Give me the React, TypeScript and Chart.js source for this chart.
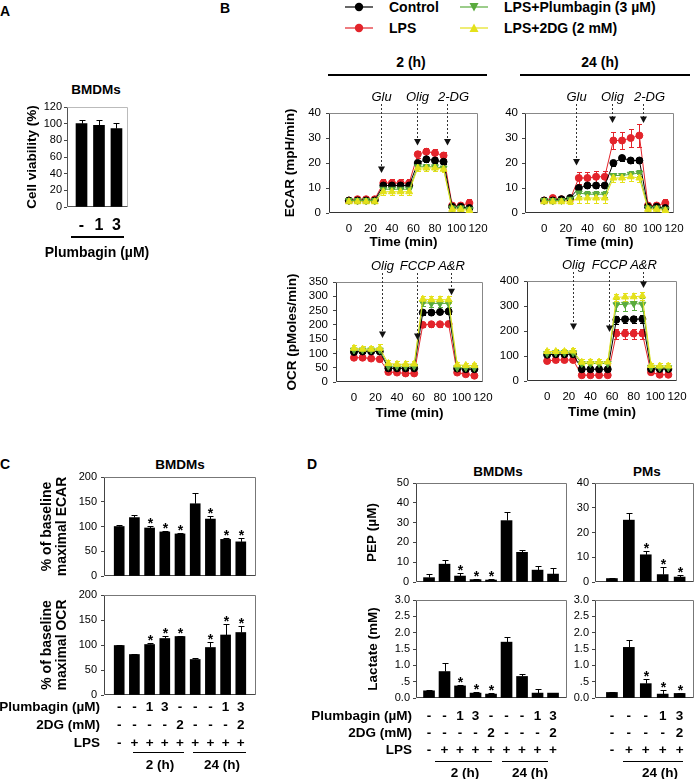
import React, { useEffect, useRef } from 'react';
import { Chart, registerables } from 'chart.js';

Chart.register(...registerables);

const FONT = "'Liberation Sans', Arial, Helvetica, sans-serif";

// ================= Panel A =================
const A_LABELS = ['-', '1', '3'];
const A_VIABILITY = [100, 98, 94];
const A_VIABILITY_ERR = [4, 6, 7];
const A_Y_TICKS = [0, 20, 40, 60, 80, 100, 120];

// ================= Panel B =================
const B_TIME = [0, 8, 16, 24, 32, 40, 48, 56, 64, 72, 80, 88, 96, 104, 112];
const B_X_TICKS = [0, 20, 40, 60, 80, 100, 120];
const B_SERIES = ['Control', 'LPS', 'LPS+Plumbagin (3 µM)', 'LPS+2DG (2 mM)'];
const B_COLORS = ['#000000', '#e3242b', '#5aab3d', '#e4e11a'];
const ECAR_TICKS = [0, 10, 20, 30, 40];
const OCR2_TICKS = [0, 50, 100, 150, 200, 250, 300, 350];
const OCR24_TICKS = [0, 100, 200, 300, 400];

const ECAR2_CTRL = [5, 5, 5, 5, 11, 11, 11, 11, 20, 21.5, 21, 20.5, 2.5, 2.5, 2];
const ECAR2_LPS = [5, 5.5, 5.5, 5.5, 12, 12, 12, 12, 23.5, 24.5, 24, 23, 3, 3, 4];
const ECAR2_PLB = [5, 5, 5, 5, 9.5, 9.5, 9.5, 9.5, 18.5, 18.5, 18.5, 18, 2, 2, 1.5];
const ECAR2_2DG = [4.5, 4.5, 4.5, 4.5, 8.5, 8.5, 8.5, 8.5, 18, 18, 18, 17.5, 1.5, 1.5, 1];
const ECAR2_CTRL_ERR = [0.5, 0.5, 0.5, 0.5, 1, 1, 1, 1, 1, 1.2, 1, 1, 0.5, 0.5, 0.5];
const ECAR2_LPS_ERR = [0.5, 0.6, 0.6, 0.6, 1.5, 1.5, 1.5, 1.5, 1.5, 1.5, 1.5, 1.5, 1, 1, 1.5];
const ECAR2_PLB_ERR = [0.5, 0.5, 0.5, 0.5, 1, 1, 1, 1, 1, 1, 1, 1, 0.5, 0.5, 0.5];
const ECAR2_2DG_ERR = [0.6, 0.6, 0.6, 0.6, 1.2, 1.2, 1.2, 1.2, 1, 1, 1, 1, 0.5, 0.5, 0.5];

const ECAR24_CTRL = [5, 5, 5.5, 6, 10, 11, 11, 11, 20, 22, 21, 21, 2.5, 2.5, 2];
const ECAR24_LPS = [5, 6, 5.5, 5.5, 14, 14, 14.5, 14.5, 29, 29, 30, 31, 3, 3, 4];
const ECAR24_PLB = [5, 5, 5, 5.5, 8, 7.5, 7.5, 7.5, 15, 15, 15.5, 16, 2, 2, 1.5];
const ECAR24_2DG = [4.5, 4.5, 4.5, 4.5, 6, 6, 6, 6, 14, 14, 14.5, 14, 1.5, 1.5, 1];
const ECAR24_CTRL_ERR = [0.5, 0.5, 0.5, 0.8, 1, 1, 1, 1, 1, 1, 1, 1, 0.5, 0.5, 0.5];
const ECAR24_LPS_ERR = [0.6, 0.6, 0.6, 0.8, 2.5, 2.5, 2.5, 2.5, 3.5, 3.5, 3.5, 4.5, 1, 1, 1.5];
const ECAR24_PLB_ERR = [0.5, 0.5, 0.5, 0.8, 1.2, 1.2, 1.2, 1.2, 1.2, 1.2, 1.2, 1.2, 0.5, 0.5, 0.5];
const ECAR24_2DG_ERR = [0.6, 0.6, 0.6, 0.8, 2, 2, 2, 2, 1.5, 1.5, 1.5, 1.5, 0.6, 0.6, 0.6];

const OCR2_CTRL = [105, 107, 107, 107, 48, 48, 48, 48, 243, 243, 245, 247, 47, 45, 45];
const OCR2_LPS = [85, 85, 82, 80, 35, 33, 30, 30, 200, 202, 202, 203, 33, 27, 22];
const OCR2_PLB = [112, 112, 112, 112, 55, 55, 55, 55, 278, 275, 275, 275, 50, 50, 50];
const OCR2_2DG = [118, 115, 115, 118, 65, 62, 62, 63, 290, 288, 288, 288, 60, 58, 58];
const OCR2_CTRL_ERR = [6, 6, 6, 6, 5, 5, 5, 5, 8, 8, 8, 8, 5, 5, 5];
const OCR2_LPS_ERR = [6, 6, 6, 6, 6, 6, 6, 6, 8, 8, 8, 8, 5, 5, 5];
const OCR2_PLB_ERR = [8, 8, 8, 8, 8, 8, 8, 8, 12, 12, 12, 12, 8, 8, 8];
const OCR2_2DG_ERR = [10, 10, 10, 15, 12, 12, 12, 12, 12, 12, 12, 12, 10, 10, 10];

const OCR24_CTRL = [105, 107, 107, 107, 47, 47, 47, 47, 245, 247, 247, 248, 48, 48, 48];
const OCR24_LPS = [80, 84, 84, 84, 23, 23, 23, 23, 190, 190, 190, 190, 35, 25, 25];
const OCR24_PLB = [110, 113, 113, 113, 70, 70, 70, 70, 305, 307, 310, 307, 55, 53, 53];
const OCR24_2DG = [118, 118, 118, 120, 75, 76, 76, 76, 335, 336, 337, 340, 62, 60, 60];
const OCR24_CTRL_ERR = [8, 8, 8, 8, 5, 5, 5, 5, 15, 15, 15, 15, 5, 5, 5];
const OCR24_LPS_ERR = [8, 8, 8, 8, 8, 8, 8, 8, 20, 20, 20, 20, 5, 5, 5];
const OCR24_PLB_ERR = [10, 10, 10, 10, 8, 8, 8, 8, 25, 25, 25, 25, 8, 8, 8];
const OCR24_2DG_ERR = [12, 12, 12, 12, 12, 12, 12, 12, 15, 15, 15, 15, 12, 12, 12];

const ECAR_ARROW_LABELS = ['Glu', 'Olig', '2-DG'];
const ECAR2_ARROW_T = [30, 63, 91];
const ECAR2_ARROW_TIP = [16, 27, 27];
const ECAR24_ARROW_T = [29, 63, 91];
const ECAR24_ARROW_TIP = [19, 36, 36];
const OCR_ARROW_LABELS = ['Olig', 'FCCP', 'A&R'];
const OCR2_ARROW_T = [26, 58.5, 90];
const OCR2_ARROW_TIP = [154, 147, 304];
const OCR24_ARROW_T = [24, 57.5, 89];
const OCR24_ARROW_TIP = [204, 196, 372];

// ================= Panel C =================
const C_PLUMB = ['-', '-', '1', '3', '-', '-', '-', '1', '3'];
const C_2DG = ['-', '-', '-', '-', '2', '-', '-', '-', '2'];
const C_LPS = ['-', '+', '+', '+', '+', '+', '+', '+', '+'];
const C_ECAR = [100, 118, 97, 89, 85, 146, 115, 74, 69];
const C_ECAR_ERR = [3, 6, 4, 2, 1, 22, 6, 2, 7];
const C_ECAR_SIG = [0, 0, 1, 1, 1, 0, 1, 1, 1];
const C_OCR = [99, 81, 101, 113, 117, 71, 95, 120, 125];
const C_OCR_ERR = [1.5, 1.5, 4, 6, 2, 4, 12, 23, 14];
const C_OCR_SIG = [0, 0, 1, 1, 1, 0, 1, 1, 1];
const C_Y_TICKS = [0, 50, 100, 150, 200];

// ================= Panel D =================
const D_B_PLUMB = ['-', '-', '1', '3', '-', '-', '-', '1', '3'];
const D_B_2DG = ['-', '-', '-', '-', '2', '-', '-', '-', '2'];
const D_B_LPS = ['-', '+', '+', '+', '+', '+', '+', '+', '+'];
const D_PM_PLUMB = ['-', '-', '-', '1', '3'];
const D_PM_2DG = ['-', '-', '-', '-', '2'];
const D_PM_LPS = ['-', '+', '+', '+', '+'];

const D_PEP_BMDM = [2.2, 9, 3, 1.2, 1, 31, 15, 6, 4];
const D_PEP_BMDM_ERR = [1.8, 2, 1.5, 0.3, 0.3, 4.5, 1, 2, 3];
const D_PEP_BMDM_SIG = [0, 0, 1, 1, 1, 0, 0, 0, 0];
const D_PEP_PM = [1.4, 25, 11, 3, 2];
const D_PEP_PM_ERR = [0.4, 2.8, 1.5, 3, 1];
const D_PEP_PM_SIG = [0, 0, 1, 1, 1];
const D_LAC_BMDM = [0.22, 0.81, 0.37, 0.15, 0.12, 1.71, 0.66, 0.15, 0.15];
const D_LAC_BMDM_ERR = [0.02, 0.26, 0.03, 0.04, 0.03, 0.15, 0.07, 0.12, 0.01];
const D_LAC_BMDM_SIG = [0, 0, 1, 1, 1, 0, 0, 0, 0];
const D_LAC_PM = [0.17, 1.55, 0.44, 0.12, 0.14];
const D_LAC_PM_ERR = [0.01, 0.23, 0.14, 0.13, 0.01];
const D_LAC_PM_SIG = [0, 0, 1, 1, 1];
const D_PEP_BMDM_TICKS = [0, 10, 20, 30, 40, 50];
const D_PEP_PM_TICKS = [0, 10, 20, 30, 40];
const D_LAC_TICKS = [0, 0.5, 1, 1.5, 2, 2.5, 3];
const D_LAC_TICK_LABELS = ['0.0', '.5', '1.0', '1.5', '2.0', '2.5', '3.0'];

// ================= helpers =================
type G = { l: number; t: number; r: number; b: number; padTop: number; padRight: number; yW: number; xH: number };

const LABEL_SHIFT: Record<string, number> = { '2-DG': 6 };
const TICK_LEN = 3;

function base(g: G) {
  return {
    animation: false,
    responsive: false,
    maintainAspectRatio: false,
    devicePixelRatio: 1,
    layout: { padding: { top: g.padTop, right: g.padRight, left: 0, bottom: 0 }, autoPadding: false },
    plugins: { legend: { display: false }, tooltip: { enabled: false }, title: { display: false } },
  };
}

const NO_GRID = { display: false, drawTicks: false, drawOnChartArea: false, tickLength: 0, offset: false };
const Y_GRID = { display: true, drawTicks: true, drawOnChartArea: false, tickLength: TICK_LEN, color: '#444', lineWidth: 1, offset: false };

function yCfg(g: G, p: { min: number; max: number; ticks: number[]; labels?: string[]; size: number; gap: number; title?: string | string[]; titleSize?: number; titleLH?: number | string }) {
  return {
    type: 'linear',
    min: p.min,
    max: p.max,
    grid: Y_GRID,
    border: { display: false },
    ticks: {
      padding: Math.max(0, p.gap - TICK_LEN),
      color: '#000',
      autoSkip: false,
      font: { family: FONT, size: p.size },
      callback: (v: number, i: number) => (p.labels ? p.labels[i] : String(v)),
    },
    afterBuildTicks: (s: any) => { s.ticks = p.ticks.map((v) => ({ value: v })); },
    afterFit: (s: any) => { s.width = g.yW; s.paddingTop = 0; s.paddingBottom = 0; },
    title: p.title
      ? { display: true, text: p.title, padding: 0, color: '#000', font: { family: FONT, size: p.titleSize ?? 13.5, weight: 'bold', lineHeight: p.titleLH ?? 1.2 } }
      : { display: false },
  };
}

const framePlugin = (lb: string, tr: string) => ({
  id: 'frame',
  beforeDatasetsDraw(chart: any) {
    const { ctx, chartArea: a } = chart;
    const L = Math.round(a.left) + 0.5, R = Math.round(a.right) - 0.5, T = Math.round(a.top) + 0.5, B = Math.round(a.bottom) - 0.5;
    ctx.save();
    ctx.lineWidth = 1;
    ctx.strokeStyle = tr;
    ctx.beginPath(); ctx.moveTo(L, T); ctx.lineTo(R, T); ctx.lineTo(R, B); ctx.stroke();
    ctx.strokeStyle = lb;
    ctx.beginPath(); ctx.moveTo(L, T); ctx.lineTo(L, B); ctx.lineTo(R, B); ctx.stroke();
    ctx.restore();
  },
});

const barErrPlugin = (errs: number[], sig: number[]) => ({
  id: 'barErr',
  afterDatasetsDraw(chart: any) {
    const { ctx } = chart;
    const ys = chart.scales.y;
    const meta = chart.getDatasetMeta(0);
    const ds = chart.data.datasets[0];
    ctx.save();
    ctx.strokeStyle = '#000';
    ctx.fillStyle = '#000';
    ctx.lineWidth = 1;
    meta.data.forEach((el: any, i: number) => {
      const v = ds.data[i].y;
      const x = Math.round(el.x) + 0.5;
      const yT = ys.getPixelForValue(v);
      const yE = Math.round(ys.getPixelForValue(v + errs[i])) + 0.5;
      ctx.beginPath();
      ctx.moveTo(x, yT); ctx.lineTo(x, yE);
      ctx.moveTo(x - 3, yE); ctx.lineTo(x + 3, yE);
      ctx.stroke();
      if (sig[i]) {
        ctx.font = `bold 14px ${FONT}`;
        ctx.textAlign = 'center';
        ctx.textBaseline = 'alphabetic';
        ctx.fillText('*', x, yE + 1);
      }
    });
    ctx.restore();
  },
});

const lineErrPlugin = (errs: number[][]) => ({
  id: 'lineErr',
  beforeDatasetsDraw(chart: any) {
    const { ctx } = chart;
    const ys = chart.scales.y;
    ctx.save();
    ctx.lineWidth = 1;
    chart.data.datasets.forEach((ds: any, k: number) => {
      const meta = chart.getDatasetMeta(k);
      ctx.strokeStyle = ds.borderColor;
      meta.data.forEach((pt: any, i: number) => {
        const v = ds.data[i].y;
        const e = errs[k][i];
        const x = Math.round(pt.x) + 0.5;
        const y1 = Math.round(ys.getPixelForValue(v + e)) + 0.5;
        const y2 = Math.round(ys.getPixelForValue(v - e)) + 0.5;
        ctx.beginPath();
        ctx.moveTo(x, y1); ctx.lineTo(x, y2);
        ctx.moveTo(x - 2.5, y1); ctx.lineTo(x + 2.5, y1);
        ctx.moveTo(x - 2.5, y2); ctx.lineTo(x + 2.5, y2);
        ctx.stroke();
      });
    });
    ctx.restore();
  },
});

const arrowPlugin = (times: number[], tips: number[], labels: string[]) => ({
  id: 'arrows',
  afterDatasetsDraw(chart: any) {
    const { ctx, chartArea: a } = chart;
    const xs = chart.scales.x, ys = chart.scales.y;
    ctx.save();
    times.forEach((t, i) => {
      const px = Math.round(xs.getPixelForValue(t)) + 0.5;
      const py = ys.getPixelForValue(tips[i]);
      ctx.strokeStyle = '#333';
      ctx.lineWidth = 1;
      ctx.setLineDash([2, 2]);
      ctx.beginPath(); ctx.moveTo(px, a.top - 9); ctx.lineTo(px, py - 5); ctx.stroke();
      ctx.setLineDash([]);
      ctx.fillStyle = '#111';
      ctx.beginPath(); ctx.moveTo(px - 3.5, py - 6.5); ctx.lineTo(px + 3.5, py - 6.5); ctx.lineTo(px, py); ctx.closePath(); ctx.fill();
      ctx.font = `italic 13px ${FONT}`;
      ctx.textAlign = 'center';
      ctx.textBaseline = 'middle';
      ctx.fillStyle = '#000';
      ctx.fillText(labels[i], px + (LABEL_SHIFT[labels[i]] || 0), a.top - 16);
    });
    ctx.restore();
  },
});

function lineCfg(g: G, p: {
  xMin: number; series: number[][]; errs: number[][];
  yMax: number; yTicks: number[]; yTitle?: string; gap: number;
  arrowT: number[]; arrowTip: number[]; arrowLabels: string[];
}) {
  const order = [2, 3, 1, 0];
  return {
    type: 'line',
    data: {
      datasets: p.series.map((s, k) => ({
        label: B_SERIES[k],
        data: s.map((v, i) => ({ x: B_TIME[i], y: v })),
        borderColor: B_COLORS[k],
        backgroundColor: B_COLORS[k],
        borderWidth: 1,
        pointRadius: k >= 2 ? 4 : 3.5,
        pointStyle: k >= 2 ? 'triangle' : 'circle',
        pointRotation: k === 2 ? 180 : 0,
        pointBorderWidth: 1,
        tension: 0,
        order: order[k],
      })),
    },
    options: {
      ...base(g),
      scales: {
        x: {
          type: 'linear',
          min: p.xMin,
          max: 120,
          offset: false,
          grid: NO_GRID,
          border: { display: false },
          ticks: { padding: 9, color: '#000', autoSkip: false, maxRotation: 0, minRotation: 0, font: { family: FONT, size: 11.5 }, callback: (v: number) => String(v) },
          afterBuildTicks: (s: any) => { s.ticks = B_X_TICKS.map((v) => ({ value: v })); },
          afterFit: (s: any) => { s.height = g.xH; s.paddingLeft = 0; s.paddingRight = 0; },
          title: { display: true, text: 'Time (min)', padding: 0, color: '#000', font: { family: FONT, size: 13.5, weight: 'bold', lineHeight: 1.2 } },
        },
        y: yCfg(g, { min: 0, max: p.yMax, ticks: p.yTicks, size: 11.5, gap: p.gap, title: p.yTitle }),
      },
    },
    plugins: [framePlugin('#333', '#888'), lineErrPlugin(p.errs), arrowPlugin(p.arrowT, p.arrowTip, p.arrowLabels)],
  };
}

function barCfg(g: G, p: {
  values: number[]; errs: number[]; sig: number[];
  xMin: number; xMax: number; barW: number;
  yMax: number; yTicks: number[]; yTickLabels?: string[]; gap: number;
  yTitle?: string | string[]; yTitleSize?: number; yTitleLH?: number | string;
  xLabels?: (string | string[])[]; xFont?: any; xPad?: number;
  frame: [string, string];
}) {
  return {
    type: 'bar',
    data: {
      datasets: [{
        data: p.values.map((v, i) => ({ x: i + 1, y: v })),
        backgroundColor: '#000',
        borderWidth: 0,
        barThickness: p.barW,
      }],
    },
    options: {
      ...base(g),
      scales: {
        x: {
          type: 'linear',
          min: p.xMin,
          max: p.xMax,
          offset: false,
          grid: NO_GRID,
          border: { display: false },
          ticks: {
            display: !!p.xLabels,
            padding: p.xPad ?? 0,
            autoSkip: false,
            maxRotation: 0,
            minRotation: 0,
            color: '#000',
            font: p.xFont ?? { family: FONT, size: 11 },
            callback: (_v: number, i: number) => (p.xLabels ? p.xLabels[i] : ''),
          },
          afterBuildTicks: (s: any) => { s.ticks = p.values.map((_v, i) => ({ value: i + 1 })); },
          afterFit: (s: any) => { s.height = g.xH; s.paddingLeft = 0; s.paddingRight = 0; },
        },
        y: yCfg(g, { min: 0, max: p.yMax, ticks: p.yTicks, labels: p.yTickLabels, size: 11, gap: p.gap, title: p.yTitle, titleSize: p.yTitleSize, titleLH: p.yTitleLH }),
      },
    },
    plugins: [framePlugin(p.frame[0], p.frame[1]), barErrPlugin(p.errs, p.sig)],
  };
}

function ChartCanvas({ g, make }: { g: G; make: () => any }) {
  const ref = useRef<HTMLCanvasElement | null>(null);
  useEffect(() => {
    if (!ref.current) return;
    const chart = new Chart(ref.current, make());
    return () => chart.destroy();
  }, []);
  const left = g.l - g.yW;
  const top = g.t - g.padTop;
  const w = g.r + g.padRight - left;
  const h = g.b + g.xH - top;
  return <canvas ref={ref} width={w} height={h} style={{ position: 'absolute', left, top, width: w, height: h }} />;
}

function Txt({ x, y, children, size = 14, bold = true, italic = false, align = 'center' }: any) {
  const tx = align === 'center' ? '-50%' : align === 'right' ? '-100%' : '0';
  return (
    <div style={{ position: 'absolute', left: x, top: y, transform: `translate(${tx}, -50%)`, fontFamily: FONT, fontSize: size, fontWeight: bold ? 700 : 400, fontStyle: italic ? 'italic' : 'normal', whiteSpace: 'nowrap', lineHeight: 1, color: '#000' }}>
      {children}
    </div>
  );
}

function HLine({ x1, x2, y, w = 1 }: { x1: number; x2: number; y: number; w?: number }) {
  return <div style={{ position: 'absolute', left: x1, top: y - w / 2, width: x2 - x1, height: w, background: '#000' }} />;
}

function LegendItem({ x, y, k, shape }: { x: number; y: number; k: number; shape: string }) {
  const c = B_COLORS[k];
  return (
    <>
      <svg style={{ position: 'absolute', left: x, top: y - 6 }} width={30} height={12}>
        <line x1={0} y1={6} x2={28} y2={6} stroke={c} strokeWidth={1.2} />
        {shape === 'circle' && <circle cx={14} cy={6} r={4.2} fill={c} />}
        {shape === 'down' && <polygon points="9.5,2 18.5,2 14,10.5" fill={c} />}
        {shape === 'up' && <polygon points="9.5,10 18.5,10 14,1.5" fill={c} />}
      </svg>
      <Txt x={x + 44} y={y} align="left">{B_SERIES[k]}</Txt>
    </>
  );
}

// ================= geometry =================
const GA: G = { l: 67, t: 107, r: 128, b: 207, padTop: 8, padRight: 4, yW: 43, xH: 30 };
const GE2: G = { l: 329, t: 113, r: 478, b: 213, padTop: 28, padRight: 14, yW: 47, xH: 37 };
const GE24: G = { l: 525, t: 113, r: 674, b: 213, padTop: 28, padRight: 14, yW: 30, xH: 37 };
const GO2: G = { l: 336, t: 282, r: 483, b: 382, padTop: 28, padRight: 14, yW: 52, xH: 39 };
const GO24: G = { l: 527, t: 281, r: 677, b: 381, padTop: 28, padRight: 12, yW: 32, xH: 39 };
const GC1: G = { l: 104, t: 477, r: 256, b: 576, padTop: 8, padRight: 4, yW: 64, xH: 4 };
const GC2: G = { l: 104, t: 595, r: 256, b: 695, padTop: 8, padRight: 4, yW: 64, xH: 58 };
const GD1: G = { l: 416, t: 483, r: 567, b: 582, padTop: 8, padRight: 4, yW: 52, xH: 4 };
const GD2: G = { l: 595, t: 483, r: 694, b: 582, padTop: 8, padRight: 3, yW: 24, xH: 4 };
const GD3: G = { l: 416, t: 600, r: 567, b: 698, padTop: 8, padRight: 4, yW: 51, xH: 62 };
const GD4: G = { l: 595, t: 600, r: 694, b: 698, padTop: 8, padRight: 3, yW: 28, xH: 62 };

const rows = (a: string[], b: string[], c: string[]) => a.map((v, i) => [v, b[i], c[i]]);
const ROW_FONT_C = { family: FONT, size: 13.5, weight: 'bold', lineHeight: '18px' };
const ROW_FONT_D = { family: FONT, size: 13.5, weight: 'bold', lineHeight: '17px' };

export default function App() {
  return (
    <div style={{ position: 'fixed', left: 0, top: 0, width: 697, height: 779, background: '#fff', overflow: 'hidden' }}>
      {/* ---------- A ---------- */}
      <Txt x={5} y={11}>A</Txt>
      <Txt x={96} y={90} size={13.5}>BMDMs</Txt>
      <ChartCanvas g={GA} make={() => barCfg(GA, {
        values: A_VIABILITY, errs: A_VIABILITY_ERR, sig: [0, 0, 0],
        xMin: 0.17, xMax: 3.66, barW: 11,
        yMax: 120, yTicks: A_Y_TICKS, gap: 5, yTitle: 'Cell viability (%)',
        xLabels: A_LABELS, xFont: { family: FONT, size: 16, weight: 'bold', lineHeight: 1.2 }, xPad: 9,
        frame: ['#555', '#bbb'],
      })} />
      <HLine x1={71} x2={124} y={237} w={1.5} />
      <Txt x={97} y={252}>Plumbagin (µM)</Txt>

      {/* ---------- B ---------- */}
      <Txt x={225} y={8}>B</Txt>
      <LegendItem x={345} y={7} k={0} shape="circle" />
      <LegendItem x={345} y={28} k={1} shape="circle" />
      <LegendItem x={460} y={7} k={2} shape="down" />
      <LegendItem x={460} y={28} k={3} shape="up" />
      <Txt x={411} y={62}>2 (h)</Txt>
      <Txt x={600} y={62}>24 (h)</Txt>
      <HLine x1={328} x2={487} y={75} w={1.5} />
      <HLine x1={520} x2={690} y={75} w={1.5} />

      <ChartCanvas g={GE2} make={() => lineCfg(GE2, {
        xMin: -18.5, series: [ECAR2_CTRL, ECAR2_LPS, ECAR2_PLB, ECAR2_2DG],
        errs: [ECAR2_CTRL_ERR, ECAR2_LPS_ERR, ECAR2_PLB_ERR, ECAR2_2DG_ERR],
        yMax: 40, yTicks: ECAR_TICKS, yTitle: 'ECAR (mpH/min)', gap: 8,
        arrowT: ECAR2_ARROW_T, arrowTip: ECAR2_ARROW_TIP, arrowLabels: ECAR_ARROW_LABELS,
      })} />
      <ChartCanvas g={GE24} make={() => lineCfg(GE24, {
        xMin: -17.7, series: [ECAR24_CTRL, ECAR24_LPS, ECAR24_PLB, ECAR24_2DG],
        errs: [ECAR24_CTRL_ERR, ECAR24_LPS_ERR, ECAR24_PLB_ERR, ECAR24_2DG_ERR],
        yMax: 40, yTicks: ECAR_TICKS, gap: 7,
        arrowT: ECAR24_ARROW_T, arrowTip: ECAR24_ARROW_TIP, arrowLabels: ECAR_ARROW_LABELS,
      })} />
      <ChartCanvas g={GO2} make={() => lineCfg(GO2, {
        xMin: -16.7, series: [OCR2_CTRL, OCR2_LPS, OCR2_PLB, OCR2_2DG],
        errs: [OCR2_CTRL_ERR, OCR2_LPS_ERR, OCR2_PLB_ERR, OCR2_2DG_ERR],
        yMax: 350, yTicks: OCR2_TICKS, yTitle: 'OCR (pMoles/min)', gap: 8,
        arrowT: OCR2_ARROW_T, arrowTip: OCR2_ARROW_TIP, arrowLabels: OCR_ARROW_LABELS,
      })} />
      <ChartCanvas g={GO24} make={() => lineCfg(GO24, {
        xMin: -18.6, series: [OCR24_CTRL, OCR24_LPS, OCR24_PLB, OCR24_2DG],
        errs: [OCR24_CTRL_ERR, OCR24_LPS_ERR, OCR24_PLB_ERR, OCR24_2DG_ERR],
        yMax: 400, yTicks: OCR24_TICKS, gap: 8,
        arrowT: OCR24_ARROW_T, arrowTip: OCR24_ARROW_TIP, arrowLabels: OCR_ARROW_LABELS,
      })} />

      {/* ---------- C ---------- */}
      <Txt x={5} y={464}>C</Txt>
      <Txt x={180} y={465} size={13.5}>BMDMs</Txt>
      <ChartCanvas g={GC1} make={() => barCfg(GC1, {
        values: C_ECAR, errs: C_ECAR_ERR, sig: C_ECAR_SIG,
        xMin: 0, xMax: 10, barW: 10,
        yMax: 200, yTicks: C_Y_TICKS, gap: 7,
        yTitle: ['% of baseline', 'maximal ECAR'], yTitleSize: 14, yTitleLH: '15px',
        frame: ['#444', '#777'],
      })} />
      <ChartCanvas g={GC2} make={() => barCfg(GC2, {
        values: C_OCR, errs: C_OCR_ERR, sig: C_OCR_SIG,
        xMin: 0, xMax: 10, barW: 10,
        yMax: 200, yTicks: C_Y_TICKS, gap: 7,
        yTitle: ['% of baseline', 'maximal OCR'], yTitleSize: 14, yTitleLH: '15px',
        xLabels: rows(C_PLUMB, C_2DG, C_LPS), xFont: ROW_FONT_C, xPad: 3,
        frame: ['#444', '#777'],
      })} />
      <Txt x={100} y={707} size={13.5} align="right">Plumbagin (µM)</Txt>
      <Txt x={100} y={725} size={13.5} align="right">2DG (mM)</Txt>
      <Txt x={100} y={743} size={13.5} align="right">LPS</Txt>
      <HLine x1={133} x2={184} y={752} />
      <HLine x1={193} x2={246} y={752} />
      <Txt x={160} y={765} size={13.5}>2 (h)</Txt>
      <Txt x={222} y={765} size={13.5}>24 (h)</Txt>

      {/* ---------- D ---------- */}
      <Txt x={312} y={464}>D</Txt>
      <Txt x={498} y={472} size={13.5}>BMDMs</Txt>
      <Txt x={647} y={472} size={13.5}>PMs</Txt>
      <ChartCanvas g={GD1} make={() => barCfg(GD1, {
        values: D_PEP_BMDM, errs: D_PEP_BMDM_ERR, sig: D_PEP_BMDM_SIG,
        xMin: 0.16, xMax: 9.9, barW: 11,
        yMax: 50, yTicks: D_PEP_BMDM_TICKS, gap: 7, yTitle: 'PEP (µM)',
        frame: ['#444', '#777'],
      })} />
      <ChartCanvas g={GD2} make={() => barCfg(GD2, {
        values: D_PEP_PM, errs: D_PEP_PM_ERR, sig: D_PEP_PM_SIG,
        xMin: 0, xMax: 5.85, barW: 11,
        yMax: 40, yTicks: D_PEP_PM_TICKS, gap: 6,
        frame: ['#444', '#777'],
      })} />
      <ChartCanvas g={GD3} make={() => barCfg(GD3, {
        values: D_LAC_BMDM, errs: D_LAC_BMDM_ERR, sig: D_LAC_BMDM_SIG,
        xMin: 0.16, xMax: 9.9, barW: 11,
        yMax: 3, yTicks: D_LAC_TICKS, yTickLabels: D_LAC_TICK_LABELS, gap: 6, yTitle: 'Lactate (mM)',
        xLabels: rows(D_B_PLUMB, D_B_2DG, D_B_LPS), xFont: ROW_FONT_D, xPad: 9.5,
        frame: ['#444', '#777'],
      })} />
      <ChartCanvas g={GD4} make={() => barCfg(GD4, {
        values: D_LAC_PM, errs: D_LAC_PM_ERR, sig: D_LAC_PM_SIG,
        xMin: 0, xMax: 5.85, barW: 11,
        yMax: 3, yTicks: D_LAC_TICKS, yTickLabels: D_LAC_TICK_LABELS, gap: 6,
        xLabels: rows(D_PM_PLUMB, D_PM_2DG, D_PM_LPS), xFont: ROW_FONT_D, xPad: 9.5,
        frame: ['#444', '#777'],
      })} />
      <Txt x={412} y={716} size={13.5} align="right">Plumbagin (µM)</Txt>
      <Txt x={412} y={733} size={13.5} align="right">2DG (mM)</Txt>
      <Txt x={412} y={750} size={13.5} align="right">LPS</Txt>
      <HLine x1={435} x2={492} y={761} />
      <HLine x1={502} x2={548} y={761} />
      <HLine x1={623} x2={683} y={761} />
      <Txt x={465} y={773} size={13.5}>2 (h)</Txt>
      <Txt x={530} y={773} size={13.5}>24 (h)</Txt>
      <Txt x={660} y={773} size={13.5}>24 (h)</Txt>
    </div>
  );
}
